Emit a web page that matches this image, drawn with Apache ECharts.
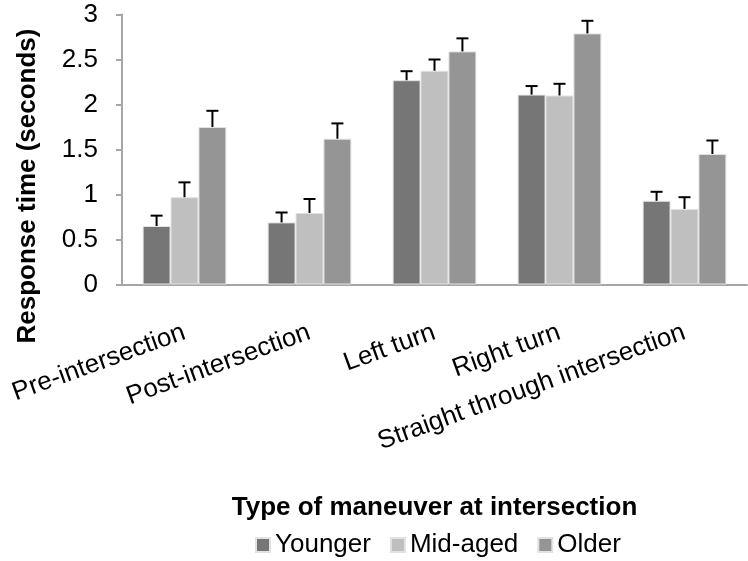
<!DOCTYPE html>
<html>
<head>
<meta charset="utf-8">
<script src="https://cdn.jsdelivr.net/npm/echarts@6/dist/echarts.min.js"></script>
<style>
  html, body { margin: 0; padding: 0; background: #fff; }
  #chart { width: 748px; height: 561px; }
</style>
</head>
<body>
<div id="chart"></div>
<script>
const categories = ['Pre-intersection', 'Post-intersection', 'Left turn', 'Right turn', 'Straight through intersection'];
const seriesNames = ['Younger', 'Mid-aged', 'Older'];
const younger = [0.65, 0.69, 2.27, 2.11, 0.93];
const midAged = [0.97, 0.795, 2.375, 2.10, 0.84];
const older = [1.75, 1.62, 2.59, 2.79, 1.45];
const youngerErr = [0.115, 0.11, 0.10, 0.095, 0.10];
const midAgedErr = [0.165, 0.155, 0.125, 0.13, 0.13];
const olderErr = [0.18, 0.17, 0.145, 0.14, 0.15];
const yTicks = [0, 0.5, 1, 1.5, 2, 2.5, 3];

const colors = ['#767676', '#bfbfbf', '#959595'];
const means = [younger, midAged, older];
const errs = [youngerErr, midAgedErr, olderErr];
const font = '"Liberation Sans", Arial, sans-serif';
const gapRatio = 0.33;

const barSeries = seriesNames.map((name, s) => ({
  type: 'bar',
  name: name,
  data: means[s],
  barGap: '0%',
  barCategoryGap: (gapRatio * 100) + '%',
  itemStyle: { color: colors[s], borderColor: '#e2e2e2', borderWidth: 1 },
  emphasis: { disabled: true }
}));

// upper error bars, drawn over the matching bar
const errorSeries = seriesNames.map((name, s) => ({
  type: 'custom',
  name: name + ' error',
  data: means[s].map((v, i) => [i, v, errs[s][i]]),
  z: 10,
  silent: true,
  renderItem: (params, api) => {
    const band = api.size([1, 0])[0];
    const bw = band * (1 - gapRatio) / 3;
    const base = api.coord([api.value(0), api.value(1)]);
    const top = api.coord([api.value(0), api.value(1) + api.value(2)]);
    const x = base[0] + (s - 1) * bw;
    const cap = 6;
    const style = { stroke: '#000', lineWidth: 2 };
    return {
      type: 'group',
      children: [
        { type: 'line', shape: { x1: x, y1: base[1], x2: x, y2: top[1] }, style: style },
        { type: 'line', shape: { x1: x - cap, y1: top[1], x2: x + cap, y2: top[1] }, style: style }
      ]
    };
  }
}));

const chart = echarts.init(document.getElementById('chart'));
chart.setOption({
  animation: false,
  textStyle: { fontFamily: font },
  grid: { left: 122, right: 1, top: 14.5, bottom: 276.5, containLabel: false },
  legend: {
    data: seriesNames,
    top: 527,
    left: 250,
    itemWidth: 14,
    itemHeight: 14,
    itemGap: 19,
    icon: 'rect',
    textStyle: { fontSize: 26, color: '#000', fontFamily: font, padding: [0, 0, 0, 0] }
  },
  graphic: [{
    type: 'text',
    x: 28,
    y: 186,
    rotation: Math.PI / 2,
    style: {
      text: 'Response time (seconds)',
      fontSize: 26,
      fontWeight: 'bold',
      fontFamily: font,
      fill: '#000',
      textAlign: 'center',
      textVerticalAlign: 'middle'
    }
  }],
  xAxis: {
    type: 'category',
    data: categories,
    name: 'Type of maneuver at intersection',
    nameLocation: 'middle',
    nameGap: 210,
    nameTextStyle: { fontSize: 26, fontWeight: 'bold', color: '#000', fontFamily: font },
    axisLine: { lineStyle: { color: '#a6a6a6', width: 2 } },
    axisTick: { length: 6, lineStyle: { color: '#a6a6a6', width: 2 } },
    axisLabel: { rotate: 20, fontSize: 26, color: '#000', margin: 47, fontFamily: font, interval: 0 }
  },
  yAxis: {
    type: 'value',
    min: yTicks[0],
    max: yTicks[yTicks.length - 1],
    interval: yTicks[1] - yTicks[0],
    axisLine: { show: true, lineStyle: { color: '#a6a6a6', width: 2 } },
    axisTick: { show: true, length: 6, lineStyle: { color: '#a6a6a6', width: 2 } },
    splitLine: { show: false },
    axisLabel: { fontSize: 26, color: '#000', margin: 24, fontFamily: font }
  },
  series: barSeries.concat(errorSeries)
});
</script>
</body>
</html>
